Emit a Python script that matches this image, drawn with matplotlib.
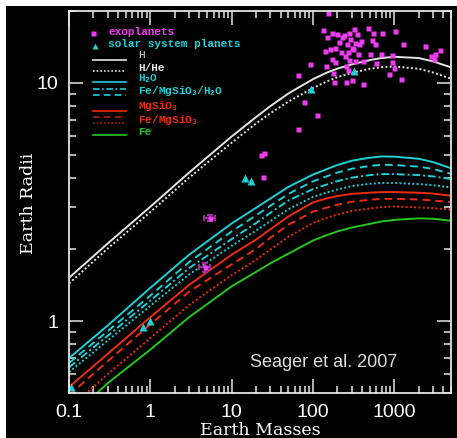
#!/usr/bin/env python3
"""
Mass-radius relations for solid exoplanets (after Seager et al. 2007).
"""

import matplotlib.pyplot as plt
from matplotlib.patches import Rectangle
from matplotlib.ticker import FixedLocator, NullFormatter, FixedFormatter

plt.rcParams['mathtext.fontset'] = 'custom'
plt.rcParams['mathtext.rm'] = 'Liberation Mono'
plt.rcParams['mathtext.bf'] = 'Liberation Mono:bold'

# model curves (Earth masses -> Earth radii)
masses = [0.1, 0.3, 1, 3, 10, 20, 30, 50, 100, 150, 200, 300, 500, 700, 1000, 2000, 3000, 5000]
r_h = [1.52, 2.12, 3.02, 4.2, 5.95, 7.18, 7.98, 9.02, 10.35, 11.05, 11.46, 11.94, 12.45, 12.7, 12.85, 12.7, 12.3, 11.6]
r_hhe = [1.44, 2.02, 2.87, 4.0, 5.6, 6.75, 7.45, 8.34, 9.5, 10.15, 10.55, 11.0, 11.45, 11.62, 11.7, 11.45, 11.05, 10.4]
r_h2o = [0.70, 0.96, 1.38, 1.90, 2.57, 2.99, 3.27, 3.66, 4.12, 4.35, 4.52, 4.71, 4.85, 4.91, 4.90, 4.80, 4.65, 4.38]
r_h2o_a = [0.668, 0.91, 1.28, 1.77, 2.38, 2.78, 3.05, 3.42, 3.86, 4.06, 4.20, 4.36, 4.48, 4.53, 4.52, 4.45, 4.35, 4.15]
r_h2o_b = [0.64, 0.87, 1.22, 1.67, 2.21, 2.58, 2.85, 3.21, 3.58, 3.75, 3.87, 4.00, 4.10, 4.14, 4.14, 4.10, 4.05, 3.95]
r_h2o_c = [0.612, 0.83, 1.16, 1.57, 2.07, 2.40, 2.63, 2.95, 3.32, 3.47, 3.57, 3.69, 3.77, 3.80, 3.80, 3.76, 3.72, 3.64]
r_mgsio3 = [0.53, 0.73, 1.04, 1.42, 1.90, 2.20, 2.43, 2.75, 3.15, 3.28, 3.35, 3.42, 3.46, 3.48, 3.48, 3.46, 3.43, 3.36]
r_femg_a = [0.49, 0.68, 0.97, 1.33, 1.73, 2.01, 2.24, 2.54, 2.88, 3.00, 3.08, 3.17, 3.23, 3.26, 3.26, 3.24, 3.21, 3.16]
r_femg_b = [0.43, 0.60, 0.85, 1.17, 1.56, 1.81, 2.00, 2.26, 2.58, 2.72, 2.80, 2.90, 2.97, 3.01, 3.03, 3.00, 2.98, 2.94]
r_fe = [0.39, 0.55, 0.76, 1.04, 1.40, 1.61, 1.75, 1.92, 2.18, 2.30, 2.38, 2.47, 2.56, 2.62, 2.66, 2.70, 2.69, 2.64]

# transiting exoplanets
exo_m = [152, 134, 149, 171, 196, 244, 282, 318, 346, 472, 556, 703, 1025,
         208, 265, 290, 333, 372, 533, 585, 1300, 2410, 2860, 3210, 3710, 3060,
         142, 162, 189, 221, 274, 356, 509, 691, 930, 171, 189, 282, 333, 413,
         601, 942, 93, 146, 257, 267, 992, 179, 853, 66, 184, 257, 300, 408,
         1220, 77, 111, 66, 23, 25.4, 24.4, 300, 230, 315, 250, 390]
exo_r = [19.7, 16.6, 15.6, 16.1, 16.0, 15.8, 16.2, 16.8, 16.0, 16.9, 16.1, 16.1, 16.5,
         14.8, 14.5, 15.2, 14.7, 14.5, 15.1, 14.6, 14.5, 14.2, 13.0, 13.2, 13.7, 12.6,
         13.6, 13.8, 14.0, 13.4, 13.4, 13.2, 13.2, 13.2, 13.1, 12.6, 12.2, 12.5, 12.3, 12.3,
         12.1, 12.2, 12.0, 11.8, 11.8, 11.3, 11.5, 11.0, 10.9, 10.8, 10.1, 10.1, 10.3, 9.93,
         10.4, 8.29, 7.36, 6.42, 4.96, 5.07, 4.01, 14.0, 15.5, 13.8, 12.9, 15.0]

# small planets with error bars
err_m = [5.4, 4.7]
err_r = [2.70, 1.68]
err_dm = [0.8, 0.7]
err_dr = [0.08, 0.07]

# solar system: Mars, Venus, Earth, Uranus, Neptune, Saturn, Jupiter
sol_m = [0.107, 0.815, 1.0, 14.5, 17.1, 95.2, 318]
sol_r = [0.53, 0.95, 1.0, 4.0, 3.88, 9.45, 11.2]

x_ticks = [0.1, 1, 10, 100, 1000]
x_ticklabels = ['0.1', '1', '10', '100', '1000']
y_ticks = [1, 10]
y_ticklabels = ['1', '10']

WHITE = '#e4e4e4'
CYAN = '#1cd0d8'
RED = '#ec2c10'
DARKRED = '#a8220e'
GREEN = '#22c81a'
MAGENTA = '#f03cf0'

fig = plt.figure(figsize=(4.57, 4.38), dpi=100, facecolor='white')
fig.patches.append(Rectangle((6 / 457, 0), 1, 1 - 6 / 438, transform=fig.transFigure,
                             facecolor='black', edgecolor='none', zorder=-10))
ax = fig.add_axes([69 / 457, 1 - 393 / 438, 382 / 457, 382 / 438])
ax.set_facecolor('black')

lw = 1.4
ax.plot(masses, r_h, color=WHITE, lw=lw)
ax.plot(masses, r_hhe, color=WHITE, lw=lw, ls=(0, (1, 1.2)))
ax.plot(masses, r_h2o, color=CYAN, lw=lw)
ax.plot(masses, r_h2o_a, color=CYAN, lw=lw, ls=(0, (4, 2.5)))
ax.plot(masses, r_h2o_b, color=CYAN, lw=lw, ls=(0, (4, 1.5, 1, 1.5)))
ax.plot(masses, r_h2o_c, color=CYAN, lw=lw, ls=(0, (1, 1.2)))
ax.plot(masses, r_mgsio3, color=RED, lw=lw)
ax.plot(masses, r_femg_a, color=RED, lw=lw, ls=(0, (4, 2.5)))
ax.plot(masses, r_femg_b, color=RED, lw=lw, ls=(0, (1, 1.2)))
ax.plot(masses, r_fe, color=GREEN, lw=lw)

ax.plot(exo_m, exo_r, 's', color=MAGENTA, ms=3.6, mec='none')
ax.errorbar(err_m, err_r, xerr=err_dm, yerr=err_dr, fmt='s', color=MAGENTA, ms=3.6,
            mec='none', ecolor='#9a2e9a', elinewidth=1.5, capsize=2.5, capthick=1.5)
ax.plot(sol_m, sol_r, '^', color=CYAN, ms=5.5, mec='none', clip_on=False)

ax.set_xscale('log')
ax.set_yscale('log')
ax.set_xlim(0.1, 5000)
ax.set_ylim(0.5, 20)

ax.xaxis.set_major_locator(FixedLocator(x_ticks))
ax.xaxis.set_major_formatter(FixedFormatter(x_ticklabels))
ax.yaxis.set_major_locator(FixedLocator(y_ticks))
ax.yaxis.set_major_formatter(FixedFormatter(y_ticklabels))
ax.xaxis.set_minor_formatter(NullFormatter())
ax.yaxis.set_minor_formatter(NullFormatter())

for s in ax.spines.values():
    s.set_color(WHITE)
    s.set_linewidth(1.3)
ax.tick_params(which='both', direction='in', top=True, right=True, color=WHITE,
               width=1.1, labelcolor='white')
ax.tick_params(which='major', length=10, pad=8, labelsize=14)
ax.tick_params(which='minor', length=5)
for lab in ax.get_xticklabels() + ax.get_yticklabels():
    lab.set_family('Liberation Sans')

ax.set_xlabel('Earth Masses', color='white', fontsize=12.5, family='DejaVu Serif')
ax.set_ylabel('Earth Radii', color='white', fontsize=12.5, family='DejaVu Serif')
ax.xaxis.set_label_coords(0.5, -0.097)
ax.yaxis.set_label_coords(-0.107, 0.497)
ax.xaxis.label.set_va('center')
ax.yaxis.label.set_va('center')

ax.text(0.475, 0.08, 'Seager et al. 2007', transform=ax.transAxes, color='#dedede',
        fontsize=13, family='Liberation Sans', va='center')

# hand-made legend
tr = ax.transAxes
lx0, lx1, tx = 0.064, 0.150, 0.181
lfont = dict(fontsize=8, family='Liberation Mono', va='center', transform=tr)
ax.plot([0.064], [0.942], 's', color=MAGENTA, ms=3.6, mec='none', transform=tr)
ax.text(0.103, 0.946, 'exoplanets', color=MAGENTA, weight='bold', **lfont)
ax.plot([0.068], [0.908], '^', color=CYAN, ms=5, mec='none', transform=tr)
ax.text(0.103, 0.913, 'solar system planets', color=CYAN, weight='bold', **lfont)

samples = [
    (0.873, WHITE, '-'),
    (0.843, WHITE, (0, (1, 1.2))),
    (0.815, CYAN, '-'),
    (0.796, CYAN, (0, (4, 1.5, 1, 1.5))),
    (0.780, CYAN, (0, (4, 2.5))),
    (0.739, RED, '-'),
    (0.723, DARKRED, (0, (4, 2.5))),
    (0.707, DARKRED, (0, (1, 1.2))),
    (0.675, GREEN, '-'),
]
for y, c, ls in samples:
    ax.plot([lx0, lx1], [y, y], color=c, lw=1.2, ls=ls, transform=tr)

labels = [
    (0.884, 'H', WHITE, 'normal'),
    (0.852, 'H/He', WHITE, 'bold'),
    (0.822, r'H$_\mathbf{2}$O', CYAN, 'bold'),
    (0.790, r'Fe/MgSiO$_\mathbf{3}$/H$_\mathbf{2}$O', CYAN, 'bold'),
    (0.751, r'MgSiO$_\mathbf{3}$', RED, 'bold'),
    (0.715, r'Fe/MgSiO$_\mathbf{3}$', RED, 'bold'),
    (0.684, 'Fe', GREEN, 'bold'),
]
for y, t, c, w in labels:
    ax.text(tx, y, t, color=c, weight=w, **lfont)

plt.savefig('out.png', dpi=100, facecolor='white')
print("[+] Saved out.png")
